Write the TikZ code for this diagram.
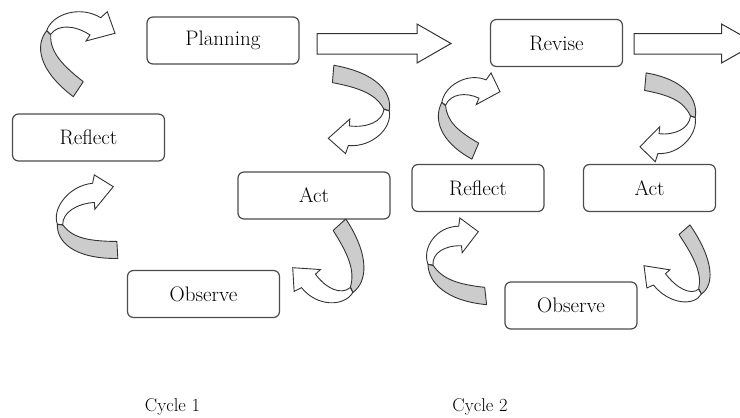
\documentclass[tikz,border=0pt]{standalone}
\usepackage{tikz}
\tikzset{
  stage/.style={draw=black!70, line width=1.2pt, rounded corners=6pt, fill=white,
    minimum height=47pt, inner sep=0pt, font=\fontsize{21}{25}\selectfont},
  wide/.style={stage, minimum width=152pt},
  narrow/.style={stage, minimum width=132pt},
  cyclelabel/.style={font=\fontsize{18.5}{22}\selectfont, anchor=base},
  blockarrow/.style={draw=black!80, line width=1pt, fill=white, line join=miter},
  curlback/.style={draw=black!80, line width=0.9pt, fill=gray!40, line join=round},
  curlfront/.style={draw=black!80, line width=0.9pt, fill=white, line join=miter}
}
%one curled arrow, drawn in its own frame
\newcommand{\curlarrow}{%
  \path[curlfront] (46.7,30.7) .. controls (52,14) and (80,5) .. (100.7,17.7)
    -- (107.3,11.7) -- (115,33.3) -- (86,41) -- (90,35)
    .. controls (75,25) and (58,24) .. (50.7,34.3) -- cycle;
  \path[curlback] (46.7,30.7) .. controls (35,45) and (38,70) .. (73.3,96.7)
    -- (83.3,81.7) .. controls (62,65) and (50,52) .. (50.7,35) -- cycle;
}
\begin{document}
\begin{tikzpicture}[x=1pt,y=-1pt]
\useasboundingbox (0,0) rectangle (740,418);
\clip (0,0) rectangle (740,418);

%cycle 1
\node[wide](plan) at (223,40.5) {Planning};
\node[wide](refl1) at (88.5,137.5) {Reflect};
\node[wide](act1) at (314,195.5) {Act};
\node[wide](obs1) at (203.5,294) {Observe};
%cycle 2
\node[narrow](rev) at (556.5,43) {Revise};
\node[narrow](refl2) at (478,188) {Reflect};
\node[narrow](act2) at (649.5,188) {Act};
\node[narrow](obs2) at (571,305.5) {Observe};

\node[cyclelabel](cyc1) at (172.5,411) {Cycle 1};
\node[cyclelabel](cyc2) at (480,411) {Cycle 2};

%hollow arrows to the next cycle
\foreach \xa/\xb/\xc in {317/417/451, 634/721.5/756}{
  \draw[blockarrow] (\xa,33.5) -- (\xb,33.5) -- (\xb,24) -- (\xc,43.5) -- (\xb,63) -- (\xb,54) -- (\xa,54) -- cycle;
}

%curled arrows: matrix and shift for each one
\foreach \a/\b/\c/\d/\ex/\ey in {
  1/0/0/1/0/0,
  -0.8733/-0.4359/0.4868/-0.8649/444.94/116.97,
  0.8481/0.1940/-0.1145/0.9358/398.66/82.84,
  -0.7918/-0.4606/0.4236/-0.8610/745.16/122.40,
  0.7960/0.5789/-0.5952/0.7519/1.94/228.24,
  -0.8913/0.3245/-0.2517/-0.9822/386.82/337.73,
  0.7142/0.5076/-0.6001/0.8172/376.19/262.86,
  -0.8468/0.3794/-0.1682/-0.8930/735.78/339.07}{
  \begin{scope}[shift={(\ex,\ey)}, cm={\a,\b,\c,\d,(0,0)}]
    \curlarrow
  \end{scope}
}
\end{tikzpicture}
\end{document}
